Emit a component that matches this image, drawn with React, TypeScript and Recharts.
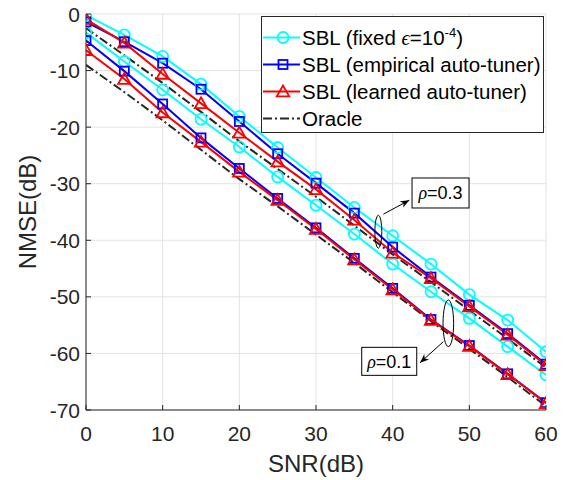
import React from 'react';
import { LineChart, Line, XAxis, YAxis, CartesianGrid, Legend, ReferenceDot, Label } from 'recharts';

// ---------- data ----------
const snr = [0, 5, 10, 15, 20, 25, 30, 35, 40, 45, 50, 55, 60];

// rho = 0.3 (upper group)
const fixedRho03 = [-0.2, -3.7, -7.5, -12.4, -18.1, -23.6, -28.9, -34.2, -39.2, -44.2, -49.6, -54.1, -59.7];
const empiricalRho03 = [-1.4, -4.9, -8.7, -13.3, -19.0, -24.7, -29.9, -35.2, -41.2, -46.5, -51.5, -56.5, -61.9];
const learnedRho03 = [-0.9, -5.1, -10.6, -15.8, -21.0, -26.1, -31.0, -36.4, -42.2, -46.7, -51.7, -56.7, -62.1];
const oracleRho03 = [-2.5, -7.3, -12.2, -17.3, -22.5, -27.4, -32.3, -37.4, -42.5, -47.4, -52.4, -57.4, -62.5];

// rho = 0.1 (lower group)
const fixedRho01 = [-3.3, -8.4, -13.4, -18.6, -23.5, -28.8, -33.8, -38.9, -44.2, -49.1, -53.8, -58.8, -63.8];
const empiricalRho01 = [-4.7, -10.1, -15.9, -21.9, -27.3, -32.6, -37.8, -43.2, -48.5, -54.0, -58.6, -63.6, -68.7];
const learnedRho01 = [-6.4, -11.5, -17.4, -22.6, -27.9, -32.9, -38.0, -43.4, -48.7, -54.1, -58.7, -63.7, -68.8];
const oracleRho01 = [-9.0, -13.8, -18.8, -24.0, -29.2, -34.0, -39.0, -44.0, -49.2, -54.3, -59.2, -64.2, -69.3];

const xTicks = [0, 10, 20, 30, 40, 50, 60];
const yTicks = [-70, -60, -50, -40, -30, -20, -10, 0];

const data = snr.map((s, i) => ({
  snr: s,
  f03: fixedRho03[i],
  e03: empiricalRho03[i],
  l03: learnedRho03[i],
  o03: oracleRho03[i],
  f01: fixedRho01[i],
  e01: empiricalRho01[i],
  l01: learnedRho01[i],
  o01: oracleRho01[i],
}));

// ---------- styles ----------
const FONT = '"Liberation Sans", Arial, Helvetica, sans-serif';
const AX = '#262626';
const CYAN = '#00FFFF';
const BLUE = '#0000FF';
const RED = '#FF0000';
const ORACLE = '#262626';
const ORACLE_DASH = '9 3 2 3';

// ---------- ticks ----------
const BottomTick = (p: any) => (
  <g>
    <line x1={p.x} x2={p.x} y1={p.y} y2={p.y - 5} stroke={AX} strokeWidth={1} />
    <text x={p.x} y={p.y + 31} textAnchor="middle" fontSize={21} fontFamily={FONT} fill={AX}>
      {p.payload.value}
    </text>
  </g>
);
const LeftTick = (p: any) => (
  <g>
    <line x1={p.x} x2={p.x + 5} y1={p.y} y2={p.y} stroke={AX} strokeWidth={1} />
    <text x={p.x - 6} y={p.y + 7.5} textAnchor="end" fontSize={21} fontFamily={FONT} fill={AX}>
      {p.payload.value}
    </text>
  </g>
);
const TopTick = (p: any) => (
  <line x1={p.x} x2={p.x} y1={p.y} y2={p.y + 5} stroke={AX} strokeWidth={1} />
);
const RightTick = (p: any) => (
  <line x1={p.x} x2={p.x - 5} y1={p.y} y2={p.y} stroke={AX} strokeWidth={1} />
);

// ---------- markers ----------
const circleDot = (color: string) => (p: any) => (
  <circle key={`c-${color}-${p.index}`} cx={p.cx} cy={p.cy} r={5.5} fill="none" stroke={color} strokeWidth={1.8} />
);
const squareDot = (color: string) => (p: any) => (
  <rect key={`s-${color}-${p.index}`} x={p.cx - 4.5} y={p.cy - 4.5} width={9} height={9} fill="none" stroke={color} strokeWidth={1.8} />
);
const triDot = (color: string) => (p: any) => (
  <polygon
    key={`t-${color}-${p.index}-${p.cy}`}
    points={`${p.cx},${p.cy - 6} ${p.cx - 6.2},${p.cy + 4.8} ${p.cx + 6.2},${p.cy + 4.8}`}
    fill="none"
    stroke={color}
    strokeWidth={1.8}
    strokeLinejoin="miter"
  />
);

// ---------- legend ----------
const legendRows = [
  { key: 'fixed', color: CYAN, marker: 'circle' },
  { key: 'emp', color: BLUE, marker: 'square' },
  { key: 'learn', color: RED, marker: 'triangle' },
  { key: 'oracle', color: ORACLE, marker: 'none' },
];

const LegendLabel = ({ k }: { k: string }) => {
  if (k === 'fixed')
    return (
      <span>
        SBL (fixed <span style={{ fontFamily: '"Liberation Serif", serif', fontStyle: 'italic' }}>ϵ</span>=10
        <sup style={{ fontSize: 13, lineHeight: 0, verticalAlign: 'super' }}>-4</sup>)
      </span>
    );
  if (k === 'emp') return <span>SBL (empirical auto-tuner)</span>;
  if (k === 'learn') return <span>SBL (learned auto-tuner)</span>;
  return <span>Oracle</span>;
};

const LegendMarker = ({ color, marker }: { color: string; marker: string }) => (
  <svg width={40} height={27} style={{ display: 'block', flex: '0 0 40px' }}>
    <line
      x1={1}
      x2={38}
      y1={13.5}
      y2={13.5}
      stroke={color}
      strokeWidth={2}
      strokeDasharray={marker === 'none' ? ORACLE_DASH : undefined}
    />
    {marker === 'circle' && <circle cx={21} cy={13.5} r={5.5} fill="none" stroke={color} strokeWidth={1.8} />}
    {marker === 'square' && <rect x={16.5} y={9} width={9} height={9} fill="none" stroke={color} strokeWidth={1.8} />}
    {marker === 'triangle' && (
      <polygon points={`21,7.5 14.8,18.3 27.2,18.3`} fill="none" stroke={color} strokeWidth={1.8} />
    )}
  </svg>
);

const LegendContent = () => (
  <div
    style={{
      boxSizing: 'border-box',
      width: 283,
      height: 117,
      border: `1px solid ${AX}`,
      background: '#fff',
      paddingTop: 7,
      fontFamily: FONT,
      fontSize: 20.5,
      color: '#000',
    }}
  >
    {legendRows.map((r) => (
      <div key={r.key} style={{ display: 'flex', alignItems: 'center', height: 27, whiteSpace: 'nowrap' }}>
        <LegendMarker color={r.color} marker={r.marker} />
        <div style={{ marginLeft: 0, lineHeight: '27px' }}>
          <LegendLabel k={r.key} />
        </div>
      </div>
    ))}
  </div>
);

// ---------- annotations ----------
const arrowHead = (x1: number, y1: number, x2: number, y2: number) => {
  const a = Math.atan2(y2 - y1, x2 - x1);
  const L = 9;
  const W = 3.6;
  const bx = x2 - L * Math.cos(a);
  const by = y2 - L * Math.sin(a);
  const nx = -Math.sin(a);
  const ny = Math.cos(a);
  const mx = x2 - 0.7 * L * Math.cos(a);
  const my = y2 - 0.7 * L * Math.sin(a);
  return `${x2},${y2} ${bx + nx * W},${by + ny * W} ${mx},${my} ${bx - nx * W},${by - ny * W}`;
};

const makeAnno = (cfg: {
  rx: number; ry: number; a1: [number, number]; a2: [number, number];
  box: [number, number, number, number]; value: string;
}) => (p: any) => {
  const { cx, cy } = p;
  const [bx, by, bw, bh] = cfg.box;
  const x1 = cx + cfg.a1[0], y1 = cy + cfg.a1[1], x2 = cx + cfg.a2[0], y2 = cy + cfg.a2[1];
  return (
    <g>
      <ellipse cx={cx} cy={cy} rx={cfg.rx} ry={cfg.ry} fill="none" stroke="#000" strokeWidth={1} />
      <line x1={x1} y1={y1} x2={x2} y2={y2} stroke="#000" strokeWidth={1} />
      <polygon points={arrowHead(x1, y1, x2, y2)} fill="#000" />
      <rect x={cx + bx} y={cy + by} width={bw} height={bh} fill="#fff" stroke="#000" strokeWidth={1} />
      <text x={cx + bx + bw / 2} y={cy + by + bh / 2 + 6.5} textAnchor="middle" fontSize={18} fontFamily={FONT} fill="#000">
        <tspan fontFamily='"Liberation Serif", serif' fontStyle="italic">ρ</tspan>
        {cfg.value}
      </text>
    </g>
  );
};

const anno03 = makeAnno({ rx: 3.5, ry: 16.5, a1: [5, -17.5], a2: [31, -31.5], box: [33.7, -53.7, 57, 30], value: '=0.3' });
const anno01 = makeAnno({ rx: 5.3, ry: 23.3, a1: [-5, 18.4], a2: [-28.3, 39.4], box: [-86.6, 24, 55, 28], value: '=0.1' });

// ---------- chart ----------
export default function App() {
  return (
    <div style={{ position: 'absolute', left: 0, top: 0, width: 569, height: 480, background: '#fff' }}>
      <LineChart
        width={569}
        height={480}
        data={data}
        margin={{ top: 14, right: 23, bottom: 0, left: 0 }}
        style={{ fontFamily: FONT }}
      >
        <CartesianGrid stroke="#e3e3e3" strokeWidth={1} />
        <XAxis
          dataKey="snr"
          type="number"
          domain={[0, 60]}
          ticks={xTicks}
          height={70}
          tickSize={0}
          tickMargin={0}
          tickLine={false}
          axisLine={{ stroke: AX, strokeWidth: 1 }}
          tick={BottomTick}
          interval={0}
          allowDataOverflow
        >
          <Label
            content={(props: any) => {
              const vb = props.viewBox || { x: 86, width: 460 };
              return (
                <text x={vb.x + vb.width / 2} y={472} textAnchor="middle" fontSize={24} fontFamily={FONT} fill={AX}>
                  SNR(dB)
                </text>
              );
            }}
          />
        </XAxis>
        <XAxis
          xAxisId="top"
          orientation="top"
          dataKey="snr"
          type="number"
          domain={[0, 60]}
          ticks={xTicks}
          height={0}
          tickSize={0}
          tickMargin={0}
          tickLine={false}
          axisLine={{ stroke: AX, strokeWidth: 1 }}
          tick={TopTick}
          interval={0}
        />
        <YAxis
          type="number"
          domain={[-70, 0]}
          ticks={yTicks}
          width={86}
          tickSize={0}
          tickMargin={0}
          tickLine={false}
          axisLine={{ stroke: AX, strokeWidth: 1 }}
          tick={LeftTick}
          interval={0}
          allowDataOverflow
        >
          <Label
            content={() => (
              <text
                x={36}
                y={212}
                textAnchor="middle"
                fontSize={24}
                fontFamily={FONT}
                fill={AX}
                transform="rotate(-90, 36, 212)"
              >
                NMSE(dB)
              </text>
            )}
          />
        </YAxis>
        <YAxis
          yAxisId="right"
          orientation="right"
          type="number"
          domain={[-70, 0]}
          ticks={yTicks}
          width={0}
          tickSize={0}
          tickMargin={0}
          tickLine={false}
          axisLine={{ stroke: AX, strokeWidth: 1 }}
          tick={RightTick}
          interval={0}
        />

        <Line dataKey="o03" stroke={ORACLE} strokeWidth={2} strokeDasharray={ORACLE_DASH} dot={false} activeDot={false} isAnimationActive={false} />
        <Line dataKey="o01" stroke={ORACLE} strokeWidth={2} strokeDasharray={ORACLE_DASH} dot={false} activeDot={false} isAnimationActive={false} />
        <Line dataKey="f03" stroke={CYAN} strokeWidth={2} dot={circleDot(CYAN)} activeDot={false} isAnimationActive={false} />
        <Line dataKey="f01" stroke={CYAN} strokeWidth={2} dot={circleDot(CYAN)} activeDot={false} isAnimationActive={false} />
        <Line dataKey="e03" stroke={BLUE} strokeWidth={2} dot={squareDot(BLUE)} activeDot={false} isAnimationActive={false} />
        <Line dataKey="e01" stroke={BLUE} strokeWidth={2} dot={squareDot(BLUE)} activeDot={false} isAnimationActive={false} />
        <Line dataKey="l03" stroke={RED} strokeWidth={2} dot={triDot(RED)} activeDot={false} isAnimationActive={false} />
        <Line dataKey="l01" stroke={RED} strokeWidth={2} dot={triDot(RED)} activeDot={false} isAnimationActive={false} />

        <ReferenceDot x={38.13} y={-38.48} r={0} shape={anno03} ifOverflow="visible" />
        <ReferenceDot x={47.26} y={-54.68} r={0} shape={anno01} ifOverflow="visible" />

        <Legend
          layout="vertical"
          align="center"
          verticalAlign="middle"
          wrapperStyle={{ left: 261, top: 16, width: 283, height: 117 }}
          content={() => <LegendContent />}
        />
      </LineChart>
    </div>
  );
}
